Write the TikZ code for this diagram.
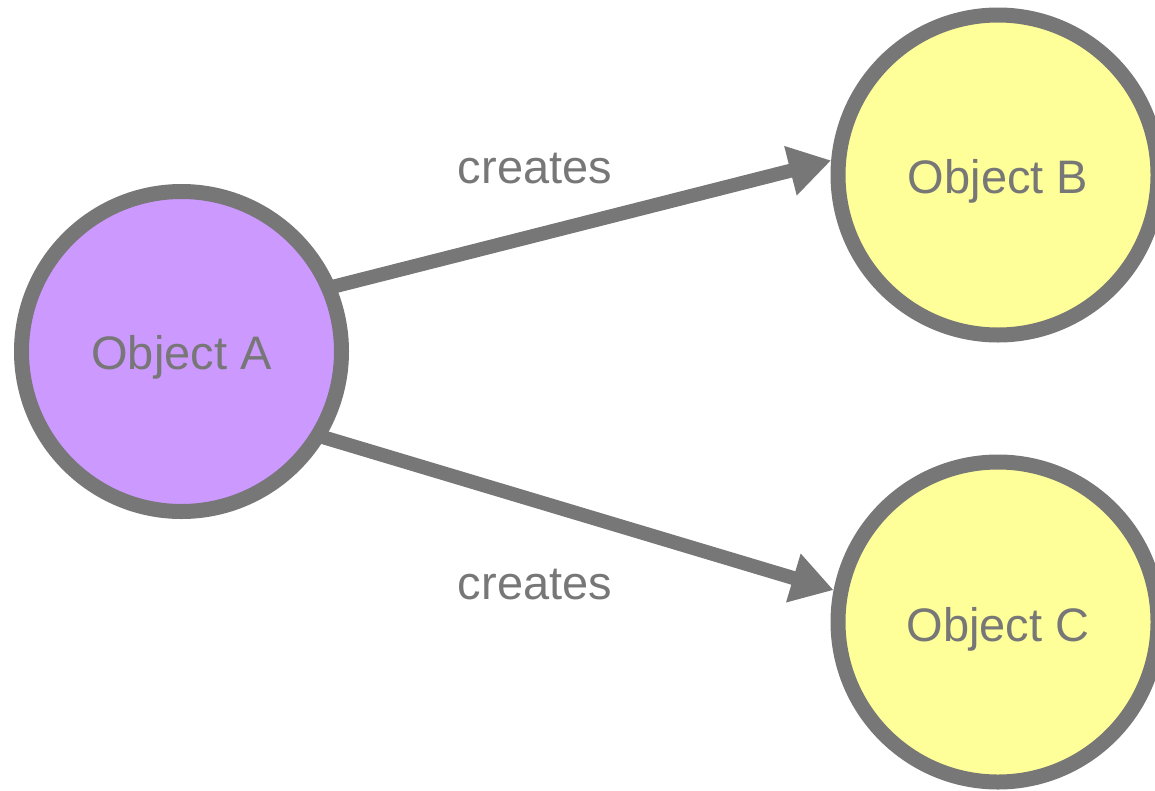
\documentclass[tikz,border=0pt]{standalone}
\usepackage{fontspec}
\setmainfont{Liberation Sans}
\usetikzlibrary{arrows.meta}
\definecolor{edgegray}{HTML}{777777}
\definecolor{objpurple}{HTML}{CC99FF}
\definecolor{objyellow}{HTML}{FFFF99}
\begin{document}
\begin{tikzpicture}[x=1pt,y=-1pt,
  objnode/.style={circle, draw=edgegray, line width=15pt, minimum size=320pt, inner sep=0pt},
  objtext/.style={anchor=base, inner sep=0pt, text=edgegray, font=\fontsize{47}{47}\selectfont},
  connector/.style={draw=edgegray, line width=14pt, shorten <=-6pt, -{Triangle[length=42pt,width=48pt]}},
  edgelabel/.style={anchor=base, inner sep=0pt, text=edgegray, font=\fontsize{47}{47}\selectfont}]
\useasboundingbox (0,0) rectangle (1155,790);
\node[objnode, fill=objpurple] (A) at (181.5,351.5) {};
\node[objnode, fill=objyellow] (B) at (998,175) {};
\node[objnode, fill=objyellow] (C) at (998,622) {};
\node[objtext] (tA) at (181.5,369) {Object A};
\node[objtext] (tB) at (998,193) {Object B};
\node[objtext] (tC) at (998,641) {Object C};
\draw[connector] (A.23) -- (B.175.5);
\draw[connector] (A.-31) -- (C.169);
\node[edgelabel] (l1) at (535,183) {creates};
\node[edgelabel] (l2) at (535,599) {creates};
\end{tikzpicture}
\end{document}
